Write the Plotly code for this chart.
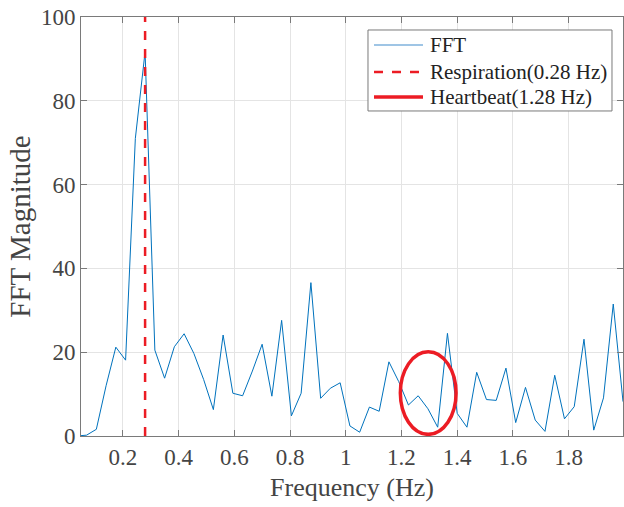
import plotly.graph_objects as go

# ---- data ----
freq_step = 0.035
fft_mag = [0.0, 0.2, 1.6, 12.0, 21.2, 18.1, 71.0, 91.7, 20.5, 13.8,
           21.3, 24.4, 19.7, 13.5, 6.3, 24.1, 10.2, 9.6, 15.5, 21.9,
           9.5, 27.6, 4.8, 10.2, 36.6, 9.0, 11.4, 12.7, 2.4, 0.9,
           6.9, 5.9, 17.7, 13.0, 7.4, 9.6, 6.5, 2.1, 24.5, 5.4,
           2.1, 15.2, 8.7, 8.5, 16.2, 3.2, 11.6, 3.8, 1.1, 14.5,
           4.1, 7.0, 23.1, 1.4, 9.1, 31.5, 8.2]
freqs = [round((i + 1) * freq_step, 4) for i in range(len(fft_mag))]

resp_freq = 0.28
resp_y = [0, 100]
heart_ellipse_x = [1.196, 1.396]
heart_ellipse_y = [0.4, 20.1]

x_tickvals = [0.2, 0.4, 0.6, 0.8, 1.0, 1.2, 1.4, 1.6, 1.8]
x_ticktext = ["0.2", "0.4", "0.6", "0.8", "1", "1.2", "1.4", "1.6", "1.8"]
y_tickvals = [0, 20, 40, 60, 80, 100]
y_ticktext = ["0", "20", "40", "60", "80", "100"]

legend_names = ["FFT", "Respiration(0.28 Hz)", "Heartbeat(1.28 Hz)"]

FONT = "Liberation Serif"
TXT = "#444444"
AX = "#7a7a7a"
RED = "#ec1c24"
BLUE = "#0072BD"

legend_styles = [dict(color="#7fb2dc", width=1.5),
                 dict(color=RED, width=2.5, dash="dash"),
                 dict(color=RED, width=3.5)]

fig = go.Figure()
fig.add_trace(go.Scatter(x=freqs, y=fft_mag, mode="lines", name=legend_names[0],
                         line=dict(color=BLUE, width=1), showlegend=False))
fig.add_trace(go.Scatter(x=[resp_freq, resp_freq], y=resp_y, mode="lines",
                         name=legend_names[1], showlegend=False,
                         line=dict(color=RED, width=2.5, dash="dash")))

fig.add_shape(type="circle", xref="x", yref="y",
              x0=heart_ellipse_x[0], x1=heart_ellipse_x[1],
              y0=heart_ellipse_y[0], y1=heart_ellipse_y[1],
              line=dict(color=RED, width=3.5))

# ---- legend box (drawn in paper coordinates) ----
fig.add_shape(type="rect", xref="paper", yref="paper",
              x0=0.5295, x1=0.9797, y0=0.7757, y1=0.969,
              line=dict(color=AX, width=1), fillcolor="white", layer="above")
row_y = [0.9332, 0.8687, 0.8091]
for name, ry, st in zip(legend_names, row_y, legend_styles):
    fig.add_shape(type="line", xref="paper", yref="paper",
                  x0=0.5406, x1=0.6310, y0=ry, y1=ry, line=st, layer="above")
    fig.add_annotation(xref="paper", yref="paper", x=0.6402, y=ry,
                       xanchor="left", yanchor="middle", showarrow=False,
                       text=name, font=dict(family=FONT, size=21, color="#222222"))

axis_common = dict(showline=True, linecolor=AX, linewidth=1, mirror="ticks",
                   ticks="inside", ticklen=6, tickcolor=AX,
                   showgrid=True, gridcolor="#e4e4e4", gridwidth=1,
                   zeroline=False,
                   tickfont=dict(family=FONT, size=23, color=TXT))

fig.update_xaxes(range=[0.05, 1.995], tickvals=x_tickvals, ticktext=x_ticktext,
                 title=dict(text="Frequency (Hz)", standoff=9,
                            font=dict(family=FONT, size=26, color=TXT)),
                 **axis_common)
fig.update_yaxes(range=[0, 100], tickvals=y_tickvals, ticktext=y_ticktext,
                 title=dict(text="FFT Magnitude", standoff=1,
                            font=dict(family=FONT, size=29, color=TXT)),
                 **axis_common)

fig.update_layout(
    width=624, height=507,
    margin=dict(l=81, r=1, t=17, b=71),
    paper_bgcolor="white", plot_bgcolor="white",
    font=dict(family=FONT, color=TXT),
    showlegend=False,
)

fig.write_html("out.html")
